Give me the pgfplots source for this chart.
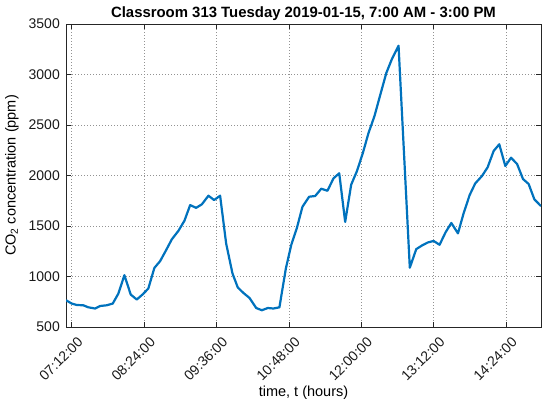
\documentclass[border=0pt]{standalone}
\usepackage{pgfplots}
\pgfplotsset{compat=1.18}
\usepackage{fontspec}
\setmainfont{Liberation Sans}
\definecolor{mblue}{rgb}{0,0.447,0.741}
\definecolor{axgray}{rgb}{0.15,0.15,0.15}
\begin{document}
\begin{tikzpicture}[x=1pt,y=1pt]
\useasboundingbox (0,0) rectangle (550,407);
\begin{axis}[
  at={(66pt,80pt)}, anchor=south west,
  scale only axis, width=475pt, height=303pt,
  xmin=426.3, xmax=898.8, ymin=500, ymax=3500,
  xtick={432,504,576,648,720,792,864},
  xticklabels={07:12:00,08:24:00,09:36:00,10:48:00,12:00:00,13:12:00,14:24:00},
  ytick={500,1000,1500,2000,2500,3000,3500},
  /pgf/number format/assume math mode=true,
  /pgf/number format/1000 sep={},
  tick align=inside, major tick length=5pt,
  xtick pos=both, ytick pos=both,
  axis line style={axgray, line width=0.6pt},
  tick style={axgray, line width=0.6pt},
  grid=major,
  major grid style={gray!85, dash pattern=on 1pt off 2pt, line width=0.6pt},
  tick label style={font=\fontsize{14}{16}\selectfont, text=black!90},
  x tick label style={xshift=5pt, yshift=-9pt, rotate=45, anchor=north east, inner sep=0pt},
  y tick label style={inner sep=0pt, xshift=-6pt},
  every axis title shift=0pt,
  title={\bfseries Classroom 313 Tuesday 2019-01-15, 7:00 AM - 3:00 PM},
  title style={font=\fontsize{14.9}{17}\selectfont, at={(axis description cs:0.5,1)}, anchor=base, yshift=6pt, inner sep=0pt},
  xlabel={time, t (hours)},
  xlabel style={font=\fontsize{14.5}{16}\selectfont, at={(axis description cs:0.5,-0.218)}, anchor=center},
  ylabel={CO\textsubscript{2} concentration (ppm)},
  ylabel style={font=\fontsize{14.5}{16}\selectfont, at={(axis description cs:-0.1137,0.5)}, anchor=center},
]
\addplot[mblue, line width=2.2pt, line join=round] coordinates {
(426.3,765) (432,732) (437,718) (443.5,715) (448.5,695) (455.2,683) (460.2,708)
(466.8,715) (472.8,732) (478.4,831) (484.4,1013) (490.7,821) (496.7,772)
(502.7,824) (508.2,881) (514.2,1085) (519.9,1152) (525.9,1261) (531.5,1367)
(538.1,1452) (544.1,1552) (549.8,1707) (555.7,1680) (561.4,1714) (568,1800)
(573.6,1757) (579.6,1800) (585.6,1327) (591.9,1030) (597.2,891) (602.8,837)
(608.8,788) (615.5,688) (621.1,666) (627.1,688) (632.7,683) (638.6,695)
(645,1079) (650.3,1310) (656,1482) (661.5,1690) (668.2,1790) (674.2,1797)
(680.2,1869) (686.4,1849) (692.4,1972) (698.1,2022) (704,1540) (710,1910)
(715.7,2043) (721.5,2220) (727.2,2420) (733.2,2590) (738.9,2798) (744.9,3014)
(750.5,3153) (757.1,3285) (768.3,1087) (774.7,1271) (780.4,1307) (786.2,1337)
(792,1352) (797.9,1314) (803.9,1438) (809.6,1530) (816.2,1427) (821.8,1625)
(827.8,1806) (833.4,1922) (840.1,1995) (845.7,2081) (851.7,2243) (857.3,2309)
(863.3,2094) (869,2176) (875,2114) (880.9,1965) (886.5,1916) (892.2,1764)
(898.8,1697)
};
\end{axis}
\end{tikzpicture}
\end{document}
